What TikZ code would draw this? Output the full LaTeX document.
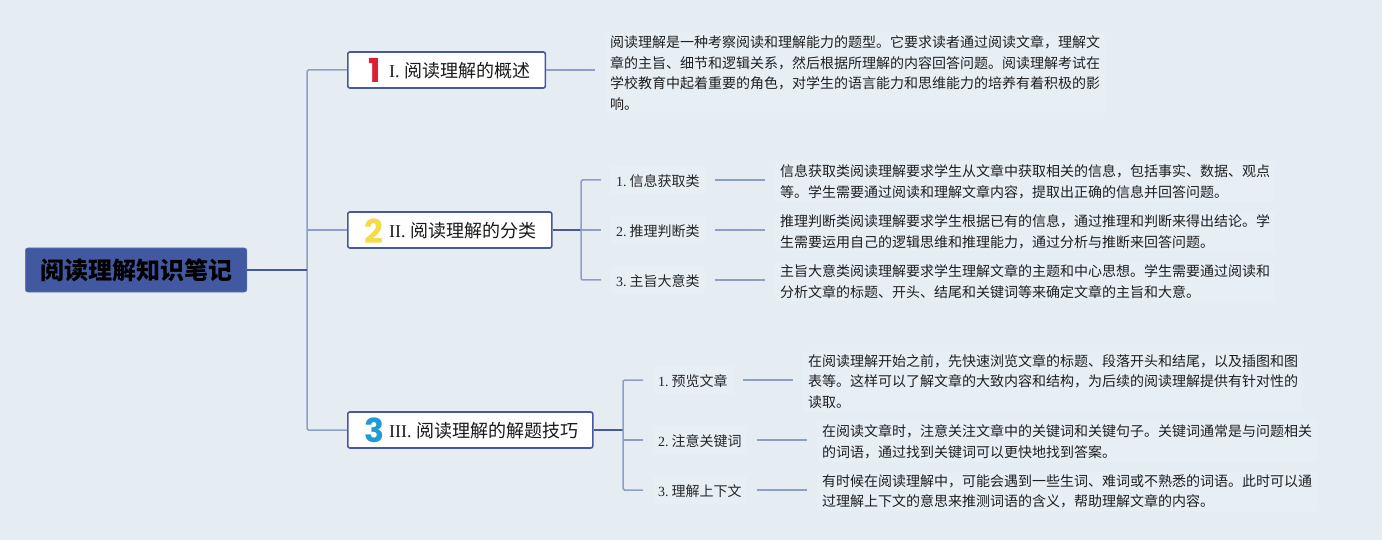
\documentclass[tikz,border=0pt]{standalone}
\usepackage{fontspec}
\setmainfont{Noto Sans CJK SC}
\newfontfamily\lat{Liberation Serif}
\newfontfamily\digitfont{Poppins}[BoldFont=* Bold]
\definecolor{bgc}{HTML}{E5EDF3}
\definecolor{bgl}{HTML}{E7EEF4}
\definecolor{lightln}{HTML}{8C9FC9}
\definecolor{darkln}{HTML}{46599E}
\definecolor{rootc}{HTML}{4259A1}
\definecolor{redn}{HTML}{DC1F35}
\definecolor{yeln}{HTML}{F5DA4E}
\definecolor{blun}{HTML}{1E9BD9}
\tikzset{
  rootbox/.style={fill=rootc,draw=rootc!85!white,line width=.6pt,rounded corners=2.5pt,anchor=west,minimum width=221.5pt,minimum height=44pt,inner sep=0pt,font=\fontsize{24}{28}\selectfont\bfseries,text=black},
  topbox/.style={fill=white,draw=darkln,line width=1.6pt,rounded corners=2pt,anchor=west,minimum height=36pt,inner sep=0pt},
  toptext/.style={anchor=west,inner sep=0pt,font=\fontsize{18}{22}\selectfont,text=black!90},
  digit/.style={inner sep=0pt,font=\digitfont\bfseries\fontsize{33}{33}\selectfont},
  leaflabel/.style={anchor=west,fill=bgl,inner xsep=5pt,outer xsep=10pt,inner ysep=7pt,text height=13.6pt,text depth=1pt,font=\fontsize{14}{18}\selectfont,text=black!85},
  detail/.style={anchor=west,fill=bgl,inner xsep=5pt,outer xsep=10pt,inner ysep=3pt,align=left,font=\fontsize{14}{20.6}\selectfont,text=black!88},
  thin link/.style={draw=lightln,line width=1.5pt,rounded corners=1.5pt},
  thick link/.style={draw=darkln,line width=1.8pt}
}
\newcommand{\sr}[1]{{\lat #1}}
\newcommand{\lb}[1]{{\lat #1.\hspace{3.2pt}}}
\begin{document}
\begin{tikzpicture}[x=1pt,y=-1pt]
\fill[bgc] (0,0) rectangle (1382,540);
\useasboundingbox (0,0) rectangle (1382,540);
\node[rootbox] (root) at (25,270) {阅读理解知识笔记};
\node[topbox,minimum width=197.5pt] (b1) at (347,70) {};
\node[topbox,minimum width=204pt] (b2) at (347,230) {};
\node[topbox,minimum width=245pt] (b3) at (347,430) {};
\node[digit,text=redn] (n1) at (374.5,70) {1};
\node[digit,text=yeln] (n2) at (374,231) {2};
\node[digit,text=blun] (n3) at (374,430) {3};
\node[toptext] (t1) at (389,71) {\sr{I. }阅读理解的概述};
\node[toptext] (t2) at (389,231) {\sr{II. }阅读理解的分类};
\node[toptext] (t3) at (389,431) {\sr{III. }阅读理解的解题技巧};
\coordinate (j0) at (307,270);
\coordinate (j2) at (581,230);
\coordinate (j3) at (623,430);
% level 2
\node[leaflabel] (a1) at (601,180) {\lb{1}信息获取类};
\node[leaflabel] (a2) at (601,230) {\lb{2}推理判断类};
\node[leaflabel] (a3) at (601,280) {\lb{3}主旨大意类};
\node[leaflabel] (c1) at (643,380) {\lb{1}预览文章};
\node[leaflabel] (c2) at (643,440) {\lb{2}注意关键词};
\node[leaflabel] (c3) at (643,490) {\lb{3}理解上下文};
% details
\node[detail] (d0) at (595,73) {阅读理解是一种考察阅读和理解能力的题型。它要求读者通过阅读文章，理解文\\章的主旨、细节和逻辑关系，然后根据所理解的内容回答问题。阅读理解考试在\\学校教育中起着重要的角色，对学生的语言能力和思维能力的培养有着积极的影\\响。};
\node[detail] (d1) at (765,181.5) {信息获取类阅读理解要求学生从文章中获取相关的信息，包括事实、数据、观点\\等。学生需要通过阅读和理解文章内容，提取出正确的信息并回答问题。};
\node[detail] (d2) at (765,231.5) {推理判断类阅读理解要求学生根据已有的信息，通过推理和判断来得出结论。学\\生需要运用自己的逻辑思维和推理能力，通过分析与推断来回答问题。};
\node[detail] (d3) at (765,281.5) {主旨大意类阅读理解要求学生理解文章的主题和中心思想。学生需要通过阅读和\\分析文章的标题、开头、结尾和关键词等来确定文章的主旨和大意。};
\node[detail] (e1) at (793,381.5) {在阅读理解开始之前，先快速浏览文章的标题、段落开头和结尾，以及插图和图\\表等。这样可以了解文章的大致内容和结构，为后续的阅读理解提供有针对性的\\读取。};
\node[detail] (e2) at (807,441.5) {在阅读文章时，注意关注文章中的关键词和关键句子。关键词通常是与问题相关\\的词语，通过找到关键词可以更快地找到答案。};
\node[detail] (e3) at (807,491.5) {有时候在阅读理解中，可能会遇到一些生词、难词或不熟悉的词语。此时可以通\\过理解上下文的意思来推测词语的含义，帮助理解文章的内容。};
% connectors
\draw[thin link] (b1.west) -| (j0);
\draw[thin link] (b3.west) -| (j0);
\draw[thin link] (b2.west) -- (j2 -| j0);
\draw[thick link] (root.east) -- (j0);
\draw[thin link] (b1.east) -- (b1.east -| d0.west);
\draw[thick link] (b2.east) -- (j2);
\draw[thin link] (a1.west) -| (j2);
\draw[thin link] (a3.west) -| (j2);
\draw[thin link] (j2) -- (a2.west);
\draw[thin link] (a1.east) -- (a1.east -| d1.west);
\draw[thin link] (a2.east) -- (a2.east -| d2.west);
\draw[thin link] (a3.east) -- (a3.east -| d3.west);
\draw[thick link] (b3.east) -- (j3);
\draw[thin link] (c1.west) -| (j3);
\draw[thin link] (c3.west) -| (j3);
\draw[thin link] (c2.west) -- (c2.west -| j3);
\draw[thin link] (c1.east) -- (c1.east -| e1.west);
\draw[thin link] (c2.east) -- (c2.east -| e2.west);
\draw[thin link] (c3.east) -- (c3.east -| e3.west);
\end{tikzpicture}
\end{document}
